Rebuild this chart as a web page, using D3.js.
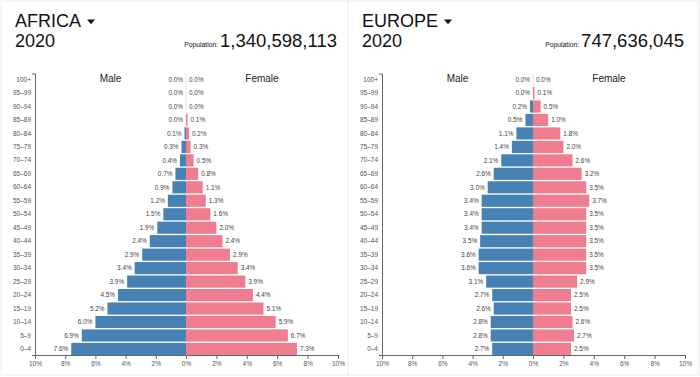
<!DOCTYPE html>
<html><head><meta charset="utf-8">
<script src="https://cdn.jsdelivr.net/npm/d3@7"></script>
<style>
body{margin:0;background:#fff;}
svg{display:block;font-family:"Helvetica Neue",Helvetica,Arial,"Liberation Sans",sans-serif;}
</style></head>
<body><svg id="c" width="700" height="377"></svg>
<script>
const ageGroups = ["0–4","5–9","10–14","15–19","20–24","25–29","30–34","35–39","40–44","45–49","50–54","55–59","60–64","65–69","70–74","75–79","80–84","85–89","90–94","95–99","100+"];
const africaMale   = [7.6,6.9,6.0,5.2,4.5,3.9,3.4,2.9,2.4,1.9,1.5,1.2,0.9,0.7,0.4,0.3,0.1,0.0,0.0,0.0,0.0];
const africaFemale = [7.3,6.7,5.9,5.1,4.4,3.9,3.4,2.9,2.4,2.0,1.6,1.3,1.1,0.8,0.5,0.3,0.2,0.1,0.0,0.0,0.0];
const europeMale   = [2.7,2.8,2.8,2.6,2.7,3.1,3.6,3.6,3.5,3.4,3.4,3.4,3.0,2.6,2.1,1.4,1.1,0.5,0.2,0.0,0.0];
const europeFemale = [2.5,2.7,2.6,2.5,2.5,2.9,3.5,3.5,3.5,3.5,3.5,3.7,3.5,3.2,2.6,2.0,1.8,1.0,0.5,0.1,0.0];
const xTicksLeft = [2,4,6,8,10];
const xTicksRight = [0,2,4,6,8,10];
const panels = [
  {region:"AFRICA", year:"2020", population:"1,340,598,113", male:africaMale, female:africaFemale},
  {region:"EUROPE", year:"2020", population:"747,636,045", male:europeMale, female:europeFemale}
];

const svg = d3.select("#c");
const MALE = "#4682b4", FEMALE = "#ef7d8f";

function drawPanel(p, ox, pw){
  const g = svg.append("g").attr("transform", `translate(${ox},0)`);
  g.append("rect").attr("x",1).attr("y",1).attr("width",pw-2).attr("height",374)
    .attr("fill","#fff").attr("stroke","#ececec");
  const left = 35, mid = 186, right = 338, top = 73.5, bottom = 355;
  const xL = d3.scaleLinear().domain([10,0]).range([left,mid]);
  const xR = d3.scaleLinear().domain([0,10]).range([mid,right]);
  const y = d3.scaleBand().domain(ageGroups.slice().reverse()).range([top,bottom]).paddingInner(0.1);

  // header
  const t = g.append("text").attr("x",15).attr("y",26.5).attr("font-size",18).attr("fill","#111").text(p.region);
  const tw = t.node().getComputedTextLength();
  g.append("path").attr("d",`M${15+tw+6},19.5 h8 l-4,4.8 z`).attr("fill","#111");
  g.append("text").attr("x",15).attr("y",47).attr("font-size",18).attr("fill","#111").text(p.year);
  const pop = g.append("text").attr("x",337).attr("y",47).attr("text-anchor","end").attr("fill","#111");
  pop.append("tspan").attr("font-size",6.8).text("Population: ");
  pop.append("tspan").attr("font-size",18.5).text(p.population);

  // center line
  g.append("line").attr("x1",mid).attr("x2",mid).attr("y1",top).attr("y2",bottom).attr("stroke","#e4e4e4");

  const rows = ageGroups.map((a,i)=>({age:a, m:p.male[i], f:p.female[i]}));
  g.selectAll(".m").data(rows).join("rect")
    .attr("x", d=>xL(d.m)).attr("y", d=>y(d.age)).attr("width", d=>mid - xL(d.m)).attr("height", y.bandwidth()).attr("fill", MALE);
  g.selectAll(".f").data(rows).join("rect")
    .attr("x", mid).attr("y", d=>y(d.age)).attr("width", d=>xR(d.f) - mid).attr("height", y.bandwidth()).attr("fill", FEMALE);

  g.selectAll(".ml").data(rows).join("text")
    .attr("x", d=>xL(d.m)-3).attr("y", d=>y(d.age)+y.bandwidth()/2).attr("dy","0.35em")
    .attr("text-anchor","end").attr("font-size",6.4).attr("fill","#444").text(d=>d.m.toFixed(1)+"%");
  g.selectAll(".fl").data(rows).join("text")
    .attr("x", d=>xR(d.f)+3).attr("y", d=>y(d.age)+y.bandwidth()/2).attr("dy","0.35em")
    .attr("text-anchor","start").attr("font-size",6.4).attr("fill","#444").text(d=>d.f.toFixed(1)+"%");

  g.append("text").attr("x",(left+mid)/2).attr("y",81.5).attr("text-anchor","middle").attr("font-size",10).attr("fill","#222").text("Male");
  g.append("text").attr("x",(mid+right)/2).attr("y",81.5).attr("text-anchor","middle").attr("font-size",10).attr("fill","#222").text("Female");

  // axes
  const fmt = d=>d+"%";
  const ya = g.append("g").attr("transform",`translate(${left},0)`)
    .call(d3.axisLeft(y).tickSizeInner(0).tickSizeOuter(3).tickPadding(4));
  const xa1 = g.append("g").attr("transform",`translate(0,${bottom})`)
    .call(d3.axisBottom(xL).tickValues(xTicksLeft).tickFormat(fmt).tickSize(4).tickSizeOuter(0).tickPadding(2.5));
  const xa2 = g.append("g").attr("transform",`translate(0,${bottom})`)
    .call(d3.axisBottom(xR).tickValues(xTicksRight).tickFormat(fmt).tickSize(4).tickSizeOuter(0).tickPadding(2.5));
  [ya,xa1,xa2].forEach(a=>{
    a.selectAll("text").attr("font-size",6.5).attr("fill","#555");
    a.selectAll("path,line").attr("stroke","#666");
    a.attr("font-family",null);
  });
}
drawPanel(panels[0], 0, 350);
drawPanel(panels[1], 347, 353);
</script></body></html>
